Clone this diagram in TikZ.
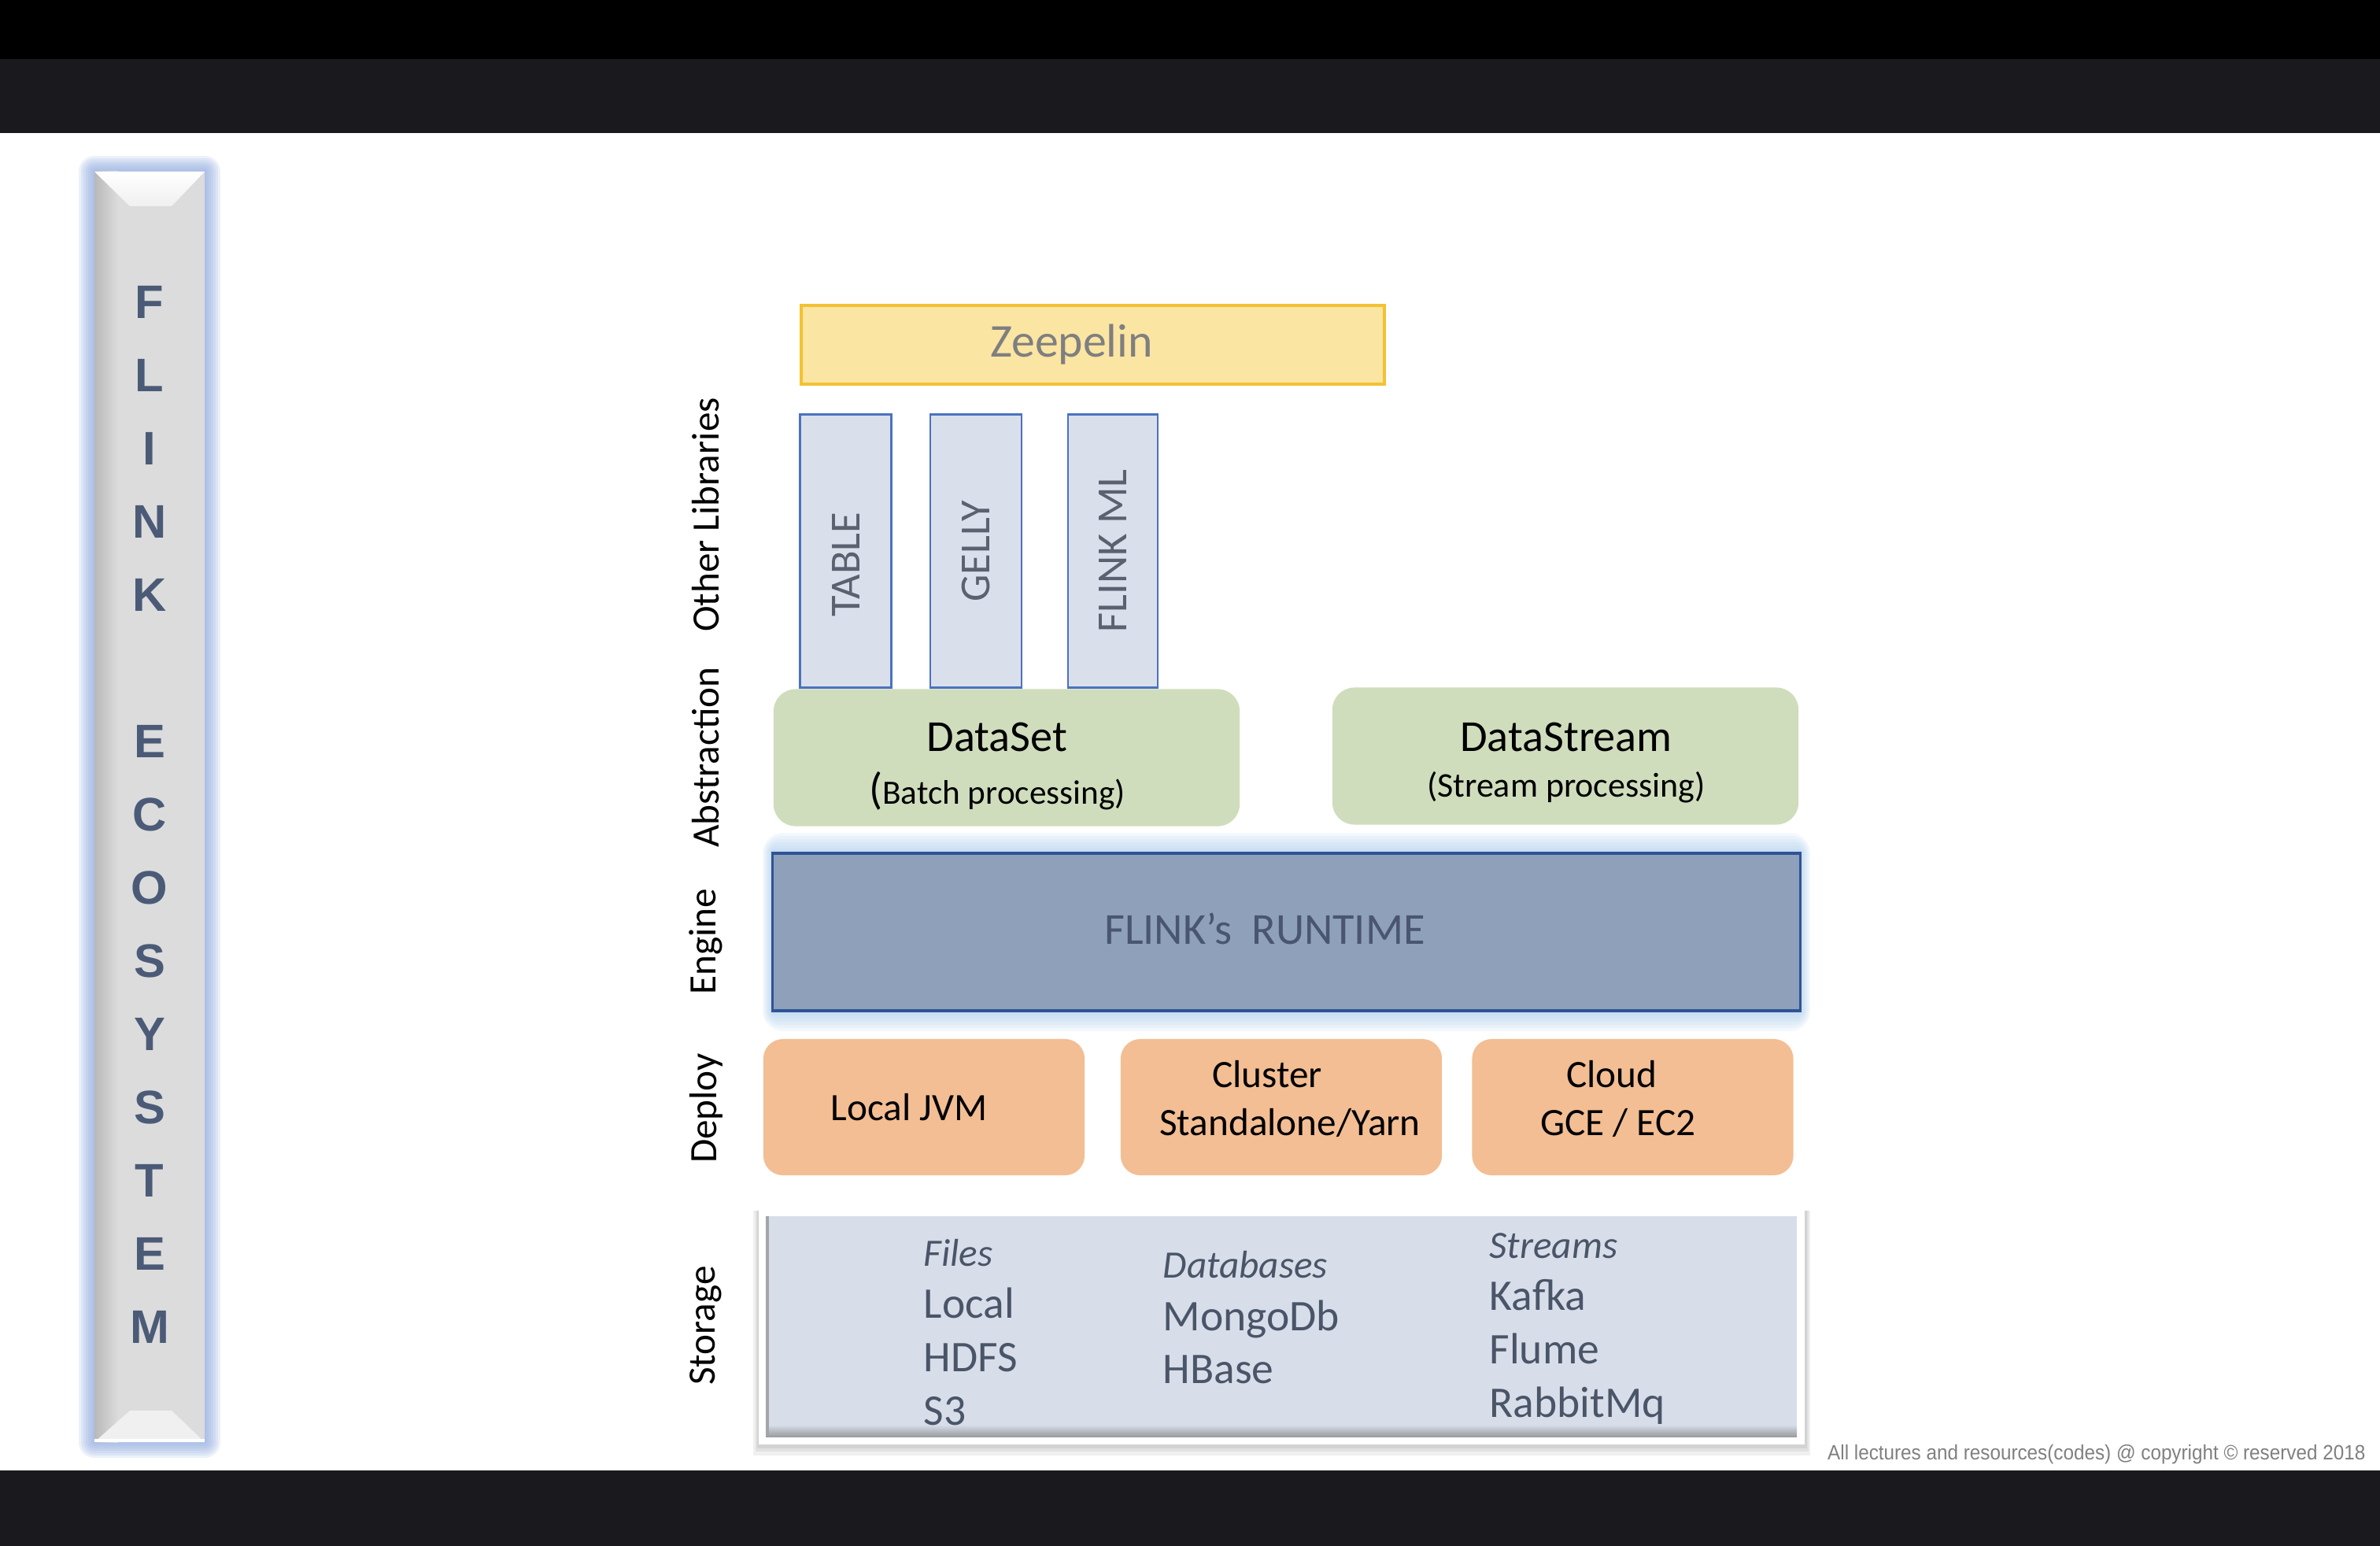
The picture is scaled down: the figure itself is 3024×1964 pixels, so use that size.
\documentclass[tikz,border=0pt]{standalone}
\usepackage{fontspec}
\setmainfont{Carlito}
\newfontfamily\bannerfont{Liberation Sans}
\newfontfamily\notefont{Liberation Sans}
\usetikzlibrary{math}

\definecolor{stripdark}{HTML}{1A191E}
\definecolor{zfill}{HTML}{FBE5A3}
\definecolor{zline}{HTML}{F2C232}
\definecolor{ztext}{HTML}{7F7F7F}
\definecolor{libfill}{HTML}{DAE0EB}
\definecolor{libline}{HTML}{4A72C0}
\definecolor{libtext}{HTML}{5B6170}
\definecolor{absfill}{HTML}{CFDDBC}
\definecolor{engfill}{HTML}{8FA0BA}
\definecolor{engline}{HTML}{2F5496}
\definecolor{engglow}{HTML}{A9CBEF}
\definecolor{engtext}{HTML}{4A5670}
\definecolor{depfill}{HTML}{F3BE93}
\definecolor{stfill}{HTML}{D7DEEA}
\definecolor{sttext}{HTML}{4A5568}
\definecolor{bannerglow}{HTML}{8DA8E0}
\definecolor{barfill}{HTML}{DCDCDC}
\definecolor{slate}{HTML}{4B5B77}

\tikzset{
  zbox/.style = {draw=zline, line width=1.1pt, fill=zfill, text=ztext,
    minimum width=7.41cm, minimum height=1.0cm,
    font=\fontsize{17}{20}\selectfont},
  libbox/.style = {draw=libline, line width=0.8pt, fill=libfill, text=libtext,
    minimum width=1.16cm, minimum height=3.46cm,
    font=\fontsize{15.5}{18}\selectfont},
  absbox/.style = {fill=absfill, rounded corners=0.28cm,
    minimum width=5.92cm, minimum height=1.74cm},
  abstext/.style = {align=center, font=\fontsize{16}{19}\selectfont},
  depbox/.style = {fill=depfill, rounded corners=0.25cm, align=center,
    minimum width=4.08cm, minimum height=1.73cm,
    font=\fontsize{14}{17.6}\selectfont},
  rowlabel/.style = {rotate=90, font=\fontsize{14}{17}\selectfont},
  bannerletter/.style = {text=slate, font=\bannerfont\bfseries\fontsize{17}{20}\selectfont},
  sthead/.style = {anchor=base west, inner sep=0pt, text=sttext,
    font=\itshape\fontsize{14}{17}\selectfont},
  stitem/.style = {anchor=base west, inner sep=0pt, text=sttext,
    font=\fontsize{15.8}{19}\selectfont},
  note/.style = {anchor=east, inner sep=0pt, text=gray, xscale=0.92,
    font=\notefont\fontsize{7.5}{9}\selectfont}
}

\begin{document}
\begin{tikzpicture}[x=0.01cm, y=-0.01cm]
    \tikzmath{
      \labelX = 897;
      \pitch = 93;
      \filesX = 1173;
      \dbX = 1477;
      \streamX = 1892;
    }
    \useasboundingbox (0,0) rectangle (3024,1964);
    \fill[black] (0,0) rectangle (3024,75);
    \fill[stripdark] (0,75) rectangle (3024,169);
    \fill[white] (0,169) rectangle (3024,1868);
    \fill[stripdark] (0,1868) rectangle (3024,1964);

    % banner
    \foreach \d in {20,17,14,11,8,5,2}
      \fill[bannerglow, opacity=0.16, rounded corners=\d*0.01cm]
      (120-\d,218-\d) rectangle (260+\d,1832+\d);
    \fill[barfill] (120,218) rectangle (260,1832);
    \shade[left color=gray!55, right color=barfill] (120,218) rectangle (150,1832);
    \shade[top color=white, bottom color=gray!12]
      (120,218) -- (260,218) -- (218,262) -- (165,262) -- cycle;
    \fill[gray!12] (120,1832) -- (165,1792) -- (218,1792) -- (260,1832) -- cycle;
    \draw[white, line width=1pt] (120,1830) -- (260,1830);
    \foreach \ch/\k in {F/0,L/1,I/2,N/3,K/4,E/6,C/7,O/8,S/9,Y/10,S/11,T/12,E/13,M/14}
      \node[bannerletter] (ban\k) at (190, 384+\k*\pitch) {\ch};

    % row labels
    \node[rowlabel] (lblother) at (\labelX, 654) {Other Libraries};
    \node[rowlabel] (lblabs) at (\labelX, 962) {Abstraction};
    \node[rowlabel] (lbleng) at (\labelX, 1196) {Engine};
    \node[rowlabel] (lbldep) at (\labelX, 1408) {Deploy};
    \node[rowlabel] (lblsto) at (\labelX, 1684) {Storage};

    % libraries
    \node[zbox] (zeepelin) at (1388.5, 438) {Zeepelin\hspace*{0.54cm}};
    \node[libbox] (table) at (1074.5, 700) {\rotatebox{90}{TABLE\hspace*{0.34cm}}};
    \node[libbox] (gelly) at (1240, 700) {\rotatebox{90}{GELLY}};
    \node[libbox, minimum width=1.14cm] (flinkml) at (1414, 700) {\rotatebox{90}{FLINK ML}};

    % abstraction
    \node[absbox] (dataset) at (1279, 962.5) {};
    \node[abstext] (datasettxt) at (1267, 974)
      {DataSet\\[0pt]{\fontsize{16}{19}\selectfont(}{\fontsize{12.3}{15}\selectfont Batch processing)}};
    \node[absbox] (datastream) at (1989, 960.5) {};
    \node[abstext] (datastreamtxt) at (1990, 969)
      {DataStream\\[-2.5pt]{\fontsize{12.5}{15}\selectfont(Stream processing)}};

    % engine
    \foreach \d in {26,22,18,14,10,6,3}
      \fill[engglow, opacity=0.13, rounded corners=\d*0.01cm]
      (982-\d*0.5,1084-\d) rectangle (2287+\d*0.5,1284+\d);
    \node[draw=engline, line width=0.9pt, fill=engfill,
      minimum width=13.05cm, minimum height=2.0cm] (runtime) at (1634.5, 1184) {};
    \node[text=engtext, font=\fontsize{16}{19}\selectfont] (runtimetxt) at (1607, 1180)
      {FLINK’s\hspace{0.45em}RUNTIME};

    % deploy
    \node[depbox] (localjvm) at (1174, 1406.5) {Local JVM\hspace*{0.38cm}};
    \node[depbox, text depth=0.24cm] (cluster) at (1628, 1406.5)
      {Cluster\hspace*{0.36cm}\\[-0.3pt]\hspace*{0.22cm}Standalone/Yarn};
    \node[depbox, text depth=0.24cm] (cloud) at (2074.5, 1406.5)
      {Cloud\hspace*{0.53cm}\\[-0.3pt]GCE / EC2\hspace*{0.37cm}};

    % storage
    \foreach \d in {14,9,5}
      \fill[black, opacity=0.06] (964-\d/2,1538) rectangle (2293+\d/2,1835+\d);
    \fill[white] (964,1533) rectangle (2293,1835);
    \fill[stfill] (973,1542) rectangle (2283,1825);
    \shade[top color=stfill, bottom color=gray!70!stfill] (973,1810) rectangle (2283,1825);
    \draw[gray!60!stfill, line width=1.2pt] (975,1544) -- (975,1823);
    \draw[white, line width=1pt] (973,1543) -- (2283,1543);
    \foreach \nm/\txt/\xx/\yy in {files/Files/\filesX/1608, dbases/Databases/\dbX/1623,
        streams/Streams/\streamX/1598}
      \node[sthead] (\nm) at (\xx, \yy) {\txt};
    \foreach \nm/\txt/\xx/\yy in {local/Local/\filesX/1674, hdfs/HDFS/\filesX/1742,
        sthree/S3/\filesX/1810, mongo/MongoDb/\dbX/1690, hbase/HBase/\dbX/1757,
        kafka/Kafka/\streamX/1664, flume/Flume/\streamX/1732, rabbit/RabbitMq/\streamX/1800}
      \node[stitem] (\nm) at (\xx, \yy) {\txt};

    \node[note] (copyright) at (3006, 1848)
      {All lectures and resources(codes) @ copyright © reserved 2018};
  \end{tikzpicture}
\end{document}
